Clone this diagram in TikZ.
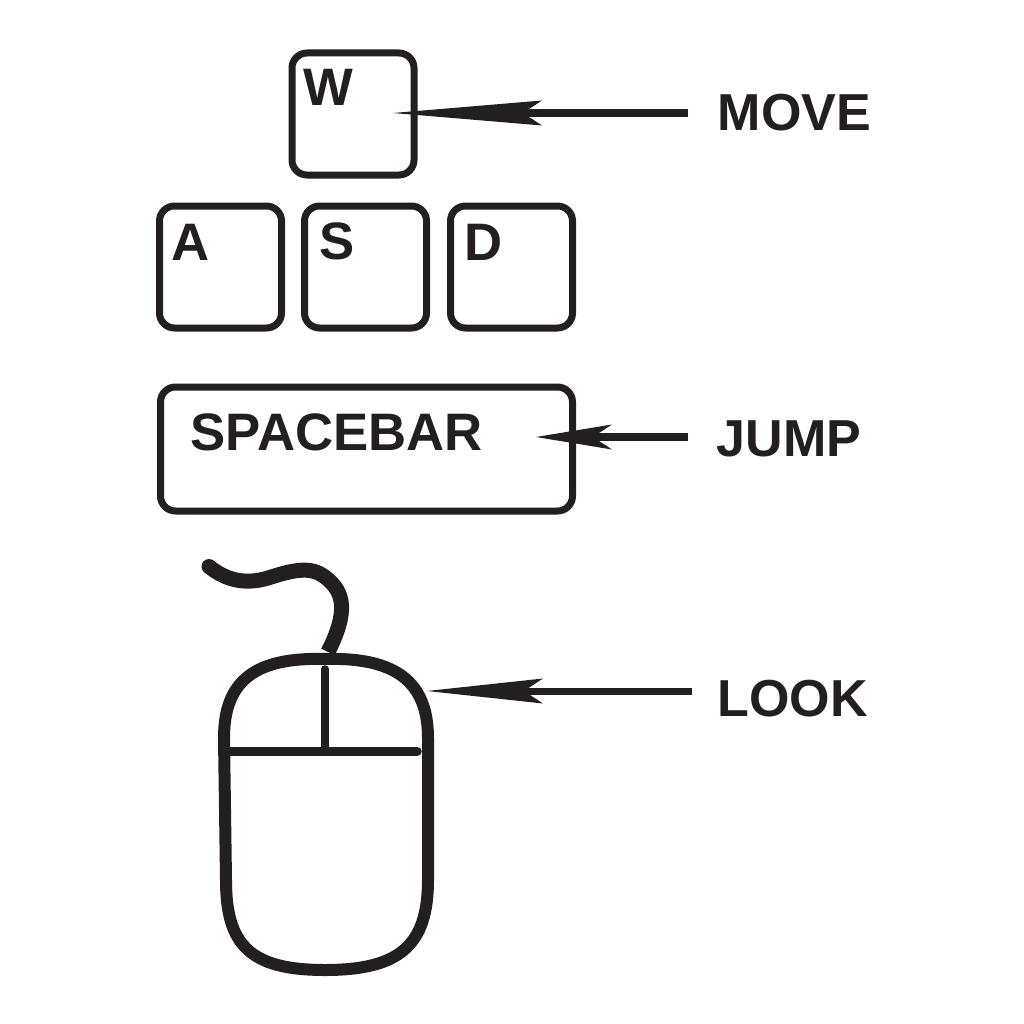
\documentclass[tikz,border=0pt]{standalone}
\usepackage{fontspec}
\setmainfont{Liberation Sans}
\usepackage{xcolor}
\usetikzlibrary{positioning}
\definecolor{inkblack}{HTML}{231F20}

\begin{document}
\begin{tikzpicture}[x=0.1mm, y=-0.1mm, node distance=1.6mm, color=inkblack]
    \tikzstyle{keycap} = [rectangle, draw=inkblack, line width=0.7mm, rounded corners=1.5mm, minimum width=12.2mm, minimum height=12.2mm]
    \tikzstyle{keytext} = [anchor=north west, inner sep=0pt, font=\fontsize{15}{15}\selectfont\bfseries, text=inkblack]
    \tikzstyle{action} = [anchor=west, inner xsep=2.9mm, inner ysep=0pt, font=\fontsize{14.8}{15}\selectfont\bfseries, text=inkblack]
    \tikzstyle{pointer} = [draw=inkblack, line width=0.8mm]
    \useasboundingbox (0,0) rectangle (1024,1024);

    % keys
    \node [keycap] (akey) at (220.5,267) {};
    \node [keycap, right=of akey] (skey) {};
    \node [keycap, right=1.7mm of skey] (dkey) {};
    \node [keycap, above=2.4mm of skey, xshift=-1.25mm] (wkey) {};
    \node [keycap, minimum width=41.2mm, minimum height=12.4mm, below=5.2mm of dkey.south east, anchor=north east] (spacekey) {};

    \node [keytext, below right=1.9mm and 1.4mm of wkey.north west] (wtext) {W};
    \node [keytext, below right=2.1mm and 1.5mm of akey.north west] (atext) {A};
    \node [keytext, below right=1.9mm and 1.8mm of skey.north west] (stext) {S};
    \node [keytext, below right=2.1mm and 1.7mm of dkey.north west] (dtext) {D};
    \node [keytext, below right=2.9mm and 3.3mm of spacekey.north west] (spacetext) {SPACEBAR};

    % actions
    \node [action] (movelabel) at (688,113) {MOVE};
    \node [action, inner xsep=2.8mm] (jumplabel) at (688,439) {JUMP};
    \node [action, inner xsep=2.5mm] (looklabel) at (692,699) {LOOK};

    % mouse
    \draw [line width=1.2mm, fill=white] (325,659) .. controls (256,657) and (224,680) .. (224,738) -- (226,880)
        .. controls (226,945) and (250,970) .. (325,970) .. controls (400,970) and (428,945) .. (428,880)
        -- (428,738) .. controls (428,682) and (396,657) .. (325,659) -- cycle;
    \draw [line width=0.75mm, line cap=round] (325,669) -- (325,751);
    \draw [line width=0.95mm, line cap=round] (226,751.5) -- (417,751.5);
    \draw [line width=1.5mm] (209,566.5) .. controls (228,582) and (248,584) .. (268,578)
        .. controls (290,571) and (310,565) .. (325,577) .. controls (345,592) and (348,612) .. (328,652);
    \fill (209,566.5) circle (0.75mm);

    \coordinate (movetip) at (393,113);
    \coordinate (movenotch) at (518,113);
    \coordinate (jumptip) at (536,437);
    \coordinate (jumpnotch) at (588,437);
    \coordinate (looktip) at (427,691);
    \coordinate (looknotch) at (519,691);

    \draw [pointer] (movelabel.west |- movetip) -- (movenotch);
    \draw [pointer] (jumplabel.west |- jumptip) -- (jumpnotch);
    \draw [pointer, line width=0.7mm] (looklabel.west |- looktip) -- (looknotch);
    \fill (movetip) -- (542,100.5) -- (523,113) -- (542,125.5) -- cycle;
    \fill (jumptip) -- (612,424.5) -- (593,437) -- (612,449.5) -- cycle;
    \fill (looktip) -- (543,678.5) -- (524,691) -- (543,703.5) -- cycle;
\end{tikzpicture}
\end{document}
